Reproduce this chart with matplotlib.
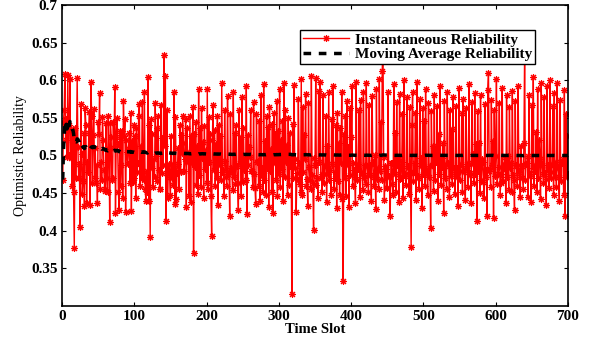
import numpy as np
import matplotlib
matplotlib.use("Agg")
import matplotlib.pyplot as plt

time_slots = np.arange(1, 701)
instantaneous = [
 0.468, 0.545, 0.560, 0.608, 0.520, 0.548, 0.498, 0.607, 0.501, 0.540, 0.602, 0.497, 0.535, 0.459, 0.527, 0.451, 0.377, 0.537, 0.470, 0.511,
 0.603, 0.511, 0.470, 0.489, 0.405, 0.568, 0.502, 0.449, 0.466, 0.530, 0.433, 0.563, 0.541, 0.437, 0.492, 0.478, 0.530, 0.558, 0.434, 0.598,
 0.553, 0.463, 0.527, 0.562, 0.470, 0.510, 0.464, 0.488, 0.437, 0.545, 0.528, 0.583, 0.455, 0.492, 0.467, 0.551, 0.520, 0.481, 0.453, 0.455,
 0.543, 0.470, 0.452, 0.552, 0.508, 0.412, 0.543, 0.525, 0.467, 0.470, 0.545, 0.510, 0.591, 0.424, 0.525, 0.550, 0.515, 0.452, 0.428, 0.533,
 0.460, 0.488, 0.532, 0.443, 0.572, 0.526, 0.548, 0.425, 0.520, 0.505, 0.489, 0.509, 0.530, 0.463, 0.556, 0.426, 0.519, 0.465, 0.540, 0.470,
 0.526, 0.443, 0.537, 0.478, 0.490, 0.552, 0.569, 0.459, 0.513, 0.470, 0.571, 0.470, 0.468, 0.584, 0.456, 0.440, 0.479, 0.452, 0.604, 0.439,
 0.540, 0.392, 0.548, 0.484, 0.529, 0.458, 0.495, 0.471, 0.570, 0.499, 0.536, 0.466, 0.552, 0.481, 0.455, 0.455, 0.567, 0.477, 0.523, 0.488,
 0.633, 0.512, 0.605, 0.413, 0.560, 0.443, 0.480, 0.489, 0.471, 0.447, 0.526, 0.470, 0.489, 0.461, 0.585, 0.436, 0.551, 0.442, 0.477, 0.489,
 0.510, 0.455, 0.541, 0.478, 0.527, 0.503, 0.552, 0.517, 0.480, 0.496, 0.549, 0.432, 0.537, 0.491, 0.504, 0.446, 0.552, 0.438, 0.526, 0.490,
 0.565, 0.371, 0.528, 0.485, 0.545, 0.461, 0.512, 0.449, 0.588, 0.474, 0.536, 0.458, 0.563, 0.497, 0.518, 0.443, 0.539, 0.482, 0.507, 0.463,
 0.588, 0.455, 0.551, 0.492, 0.529, 0.446, 0.393, 0.521, 0.567, 0.481, 0.534, 0.460, 0.515, 0.470, 0.552, 0.434, 0.540, 0.487, 0.526, 0.468,
 0.597, 0.478, 0.481, 0.446, 0.561, 0.493, 0.472, 0.459, 0.579, 0.476, 0.478, 0.420, 0.555, 0.483, 0.480, 0.454, 0.584, 0.471, 0.530, 0.462,
 0.541, 0.486, 0.463, 0.427, 0.560, 0.490, 0.524, 0.446, 0.578, 0.465, 0.537, 0.481, 0.497, 0.468, 0.592, 0.422, 0.527, 0.487, 0.511, 0.498,
 0.560, 0.480, 0.479, 0.458, 0.571, 0.476, 0.457, 0.435, 0.555, 0.492, 0.493, 0.460, 0.546, 0.439, 0.581, 0.473, 0.484, 0.451, 0.595, 0.467,
 0.519, 0.447, 0.552, 0.485, 0.538, 0.431, 0.564, 0.480, 0.509, 0.452, 0.542, 0.424, 0.556, 0.490, 0.527, 0.468, 0.573, 0.446, 0.533, 0.476,
 0.589, 0.458, 0.520, 0.482, 0.546, 0.439, 0.597, 0.471, 0.561, 0.492, 0.514, 0.448, 0.550, 0.461, 0.530, 0.486, 0.499, 0.316, 0.542, 0.470,
 0.594, 0.484, 0.495, 0.425, 0.477, 0.468, 0.575, 0.490, 0.462, 0.451, 0.601, 0.447, 0.565, 0.478, 0.527, 0.495, 0.582, 0.460, 0.469, 0.433,
 0.570, 0.485, 0.468, 0.456, 0.606, 0.474, 0.463, 0.401, 0.497, 0.488, 0.603, 0.461, 0.470, 0.444, 0.586, 0.492, 0.598, 0.470, 0.475, 0.452,
 0.580, 0.463, 0.476, 0.487, 0.552, 0.438, 0.512, 0.475, 0.584, 0.468, 0.481, 0.447, 0.549, 0.489, 0.593, 0.455, 0.470, 0.478, 0.541, 0.430,
 0.556, 0.466, 0.517, 0.448, 0.536, 0.490, 0.585, 0.442, 0.333, 0.528, 0.470, 0.552, 0.446, 0.573, 0.487, 0.511, 0.432, 0.563, 0.474, 0.525,
 0.592, 0.459, 0.490, 0.481, 0.471, 0.437, 0.598, 0.468, 0.483, 0.489, 0.560, 0.445, 0.574, 0.478, 0.476, 0.454, 0.585, 0.470, 0.488, 0.462,
 0.596, 0.486, 0.474, 0.451, 0.567, 0.474, 0.489, 0.440, 0.579, 0.492, 0.471, 0.460, 0.501, 0.429, 0.588, 0.469, 0.483, 0.455, 0.602, 0.480,
 0.545, 0.468, 0.612, 0.650, 0.498, 0.441, 0.486, 0.482, 0.457, 0.457, 0.585, 0.473, 0.471, 0.419, 0.490, 0.490, 0.462, 0.447, 0.595, 0.476,
 0.530, 0.452, 0.571, 0.487, 0.496, 0.438, 0.582, 0.469, 0.470, 0.491, 0.555, 0.443, 0.600, 0.473, 0.475, 0.461, 0.578, 0.484, 0.486, 0.449,
 0.564, 0.477, 0.378, 0.540, 0.585, 0.466, 0.478, 0.490, 0.556, 0.441, 0.598, 0.470, 0.473, 0.456, 0.575, 0.486, 0.497, 0.430, 0.563, 0.475,
 0.546, 0.460, 0.589, 0.482, 0.475, 0.447, 0.570, 0.471, 0.486, 0.404, 0.559, 0.488, 0.512, 0.453, 0.581, 0.468, 0.511, 0.492, 0.566, 0.439,
 0.529, 0.476, 0.592, 0.461, 0.497, 0.485, 0.517, 0.424, 0.572, 0.470, 0.489, 0.455, 0.584, 0.490, 0.486, 0.445, 0.561, 0.473, 0.535, 0.462,
 0.578, 0.483, 0.478, 0.449, 0.566, 0.471, 0.484, 0.433, 0.590, 0.467, 0.480, 0.489, 0.557, 0.452, 0.575, 0.478, 0.482, 0.441, 0.563, 0.486,
 0.490, 0.458, 0.595, 0.474, 0.477, 0.437, 0.571, 0.489, 0.502, 0.464, 0.583, 0.476, 0.515, 0.413, 0.559, 0.481, 0.517, 0.450, 0.580, 0.468,
 0.496, 0.492, 0.465, 0.443, 0.568, 0.471, 0.481, 0.419, 0.587, 0.609, 0.480, 0.482, 0.458, 0.574, 0.488, 0.519, 0.417, 0.561, 0.473, 0.499,
 0.601, 0.462, 0.475, 0.485, 0.570, 0.448, 0.463, 0.476, 0.590, 0.466, 0.484, 0.489, 0.498, 0.437, 0.581, 0.471, 0.499, 0.454, 0.565, 0.483,
 0.490, 0.451, 0.586, 0.474, 0.467, 0.427, 0.573, 0.488, 0.486, 0.460, 0.593, 0.478, 0.471, 0.445, 0.512, 0.486, 0.470, 0.456, 0.517, 0.640,
 0.468, 0.489, 0.490, 0.500, 0.445, 0.581, 0.473, 0.476, 0.438, 0.567, 0.484, 0.604, 0.459, 0.487, 0.479, 0.531, 0.452, 0.589, 0.470, 0.520,
 0.496, 0.442, 0.597, 0.487, 0.475, 0.463, 0.578, 0.476, 0.469, 0.434, 0.592, 0.481, 0.488, 0.457, 0.600, 0.470, 0.478, 0.489, 0.566, 0.447,
 0.583, 0.472, 0.491, 0.458, 0.596, 0.484, 0.472, 0.440, 0.574, 0.466, 0.491, 0.490, 0.496, 0.447, 0.587, 0.420, 0.555, 0.471, 0.526, 0.475,
]
inst = np.array(instantaneous)
# moving (running) average of the instantaneous reliability
moving_avg = np.cumsum(inst) / np.arange(1, len(inst) + 1)

x_ticks = [0, 100, 200, 300, 400, 500, 600, 700]
y_ticks = [0.35, 0.4, 0.45, 0.5, 0.55, 0.6, 0.65, 0.7]
y_tick_labels = ["0.35", "0.4", "0.45", "0.5", "0.55", "0.6", "0.65", "0.7"]

plt.rcParams['font.family'] = ['Liberation Serif', 'DejaVu Serif']

fig = plt.figure(figsize=(5.95, 3.43), dpi=100)
ax = fig.add_axes([62/595, 1 - 306/343, (568-62)/595, (306-5)/343])

ax.plot(time_slots, inst, color='red', linewidth=1.0, marker=(8, 2, 0),
        markersize=5, markeredgewidth=0.8, label='Instantaneous Reliability')
ax.plot(time_slots, moving_avg, color='black', linewidth=2.5, linestyle=(0, (2.2, 2.2)),
        label='Moving Average Reliability')

ax.set_xlim(0, 700)
ax.set_ylim(0.3, 0.7)
ax.set_xticks(x_ticks)
ax.set_xticklabels([str(v) for v in x_ticks], fontweight='bold', fontsize=11)
ax.set_yticks(y_ticks)
ax.set_yticklabels(y_tick_labels, fontweight='bold', fontsize=11)
ax.tick_params(direction='in', length=3, width=0.8, top=True, right=True, pad=3)
for s in ax.spines.values():
    s.set_linewidth(1.2)

ax.set_xlabel('Time Slot', fontweight='bold', fontsize=10.5, labelpad=0)
ax.set_ylabel('Optimistic Reliability', fontsize=10, labelpad=3)

leg = ax.legend(loc='upper right', bbox_to_anchor=(0.935, 0.917), fancybox=False,
                framealpha=1, edgecolor='black', handlelength=3.0, handletextpad=0.4,
                borderpad=0.2, labelspacing=0.05, borderaxespad=0,
                prop={'weight': 'bold', 'size': 11})
leg.get_frame().set_linewidth(1.0)

fig.savefig('out.png', dpi=100)
